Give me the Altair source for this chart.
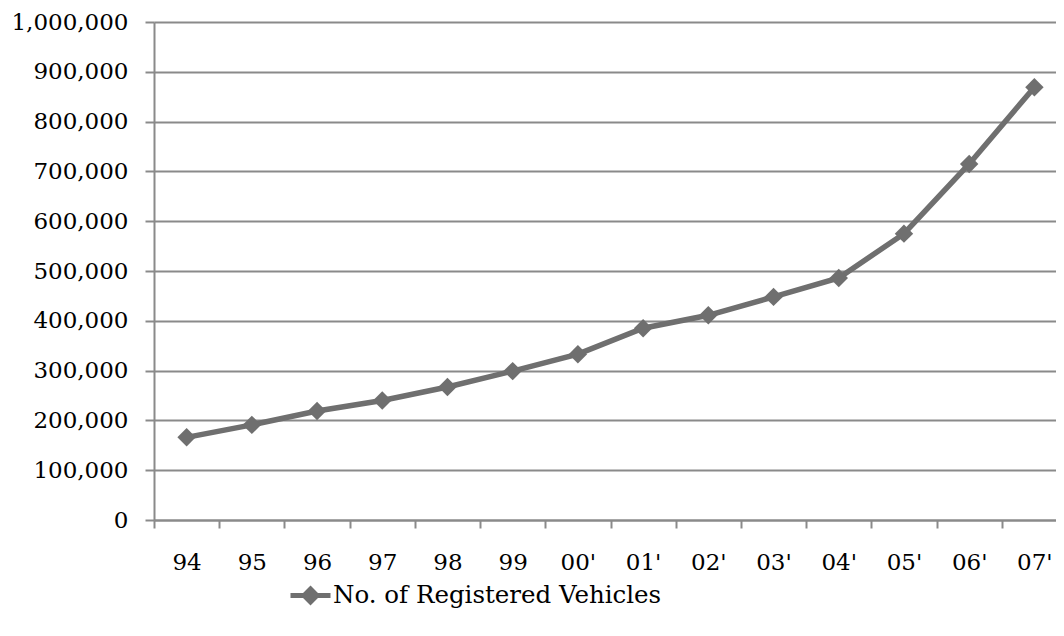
import altair as alt
import pandas as pd

years = ["94", "95", "96", "97", "98", "99", "00'", "01'", "02'", "03'", "04'", "05'", "06'", "07'"]
vehicles = [166000, 191000, 219000, 240000, 267000, 299000, 333000, 385000,
            411000, 448000, 486000, 575000, 715000, 869000]
series_name = "No. of Registered Vehicles"
y_ticks = list(range(0, 1000001, 100000))

df = pd.DataFrame({"year": years, "value": vehicles, "series": [series_name] * len(years)})

FONT = "DejaVu Serif"
FS = 23
LINE_C = "#6f6f6f"
GRID_C = "#8a8a8a"

base = alt.Chart(df).encode(
    x=alt.X(
        "year:N",
        sort=years,
        scale=alt.Scale(range=[0, 913], paddingInner=0, paddingOuter=0),
        axis=alt.Axis(
            title=None, labelAngle=0, tickBand="extent", grid=False,
            labelFont=FONT, labelFontSize=FS, labelColor="#000000",
            labelPadding=23, tickSize=8, tickColor=GRID_C, domainColor=GRID_C,
            tickWidth=2, domainWidth=2,
        ),
    ),
    y=alt.Y(
        "value:Q",
        scale=alt.Scale(domain=[0, 1000000], nice=False),
        axis=alt.Axis(
            title=None, values=y_ticks, format=",d",
            labelFont=FONT, labelFontSize=FS, labelColor="#000000",
            labelPadding=17, tickSize=9, tickColor=GRID_C, domainColor=GRID_C,
            gridColor=GRID_C, gridWidth=2, tickWidth=2, domainWidth=2,
            labelBaseline="middle",
        ),
    ),
    color=alt.Color(
        "series:N",
        scale=alt.Scale(range=[LINE_C]),
        legend=alt.Legend(
            title=None, orient="none", legendX=134, legendY=551,
            symbolType="M-1,0L1,0M0,-0.32L0.32,0L0,0.32L-0.32,0Z",
            symbolSize=1600, symbolStrokeWidth=5, symbolFillColor=LINE_C,
            symbolStrokeColor=LINE_C, labelFont=FONT, labelFontSize=24.5,
            labelColor="#000000", labelOffset=0, padding=0, labelLimit=0,
        ),
    ),
)

line = base.mark_line(strokeWidth=5.5)
pts = base.mark_point(shape="diamond", filled=True, size=340, opacity=1)

chart = (
    (line + pts)
    .properties(
        width=902,
        height=498,
        autosize=alt.AutoSizeParams(type="none"),
        padding={"left": 146, "top": 14, "right": 0, "bottom": 100},
    )
    .configure_view(stroke=None)
)

chart.save("out.html", embed_options={"renderer": "svg", "actions": False})
